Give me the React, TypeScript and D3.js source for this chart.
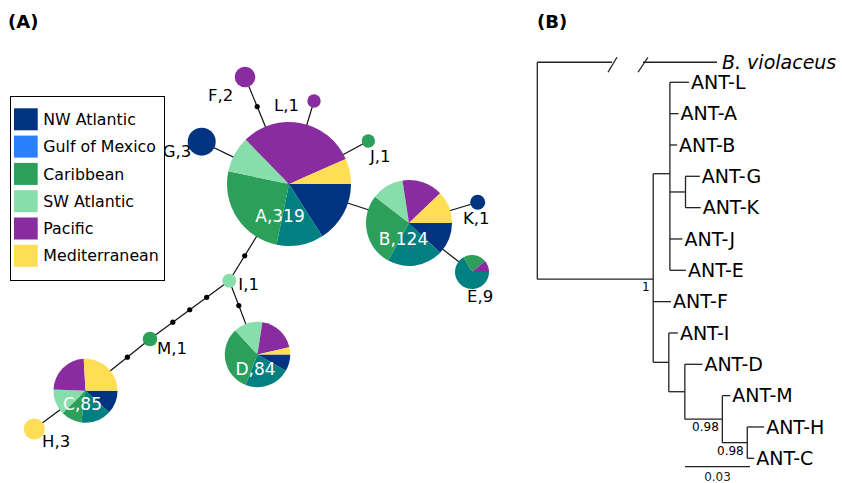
import { useEffect, useRef } from 'react';
import * as d3 from 'd3';

// ---- Panel A: haplotype network ----
const regions = ['NW Atlantic', 'Gulf of Mexico', 'Caribbean', 'SW Atlantic', 'Pacific', 'Mediterranean'];
const legendColors = ['#003380', '#2a7fff', '#2ca05a', '#87deaa', '#892ca0', '#ffdd55'];
const pieColors = ['#003380', '#008080', '#2ca05a', '#87deaa', '#892ca0', '#ffdd55'];

const haplotypes = ['A', 'B', 'C', 'D', 'E', 'F', 'G', 'H', 'I', 'J', 'K', 'L', 'M'];
const haplotypeTotals = [319, 124, 85, 84, 9, 2, 3, 3, 1, 1, 1, 1, 1];
// counts per region, same order as `regions`
const regionCounts = [
    [51, 39, 80, 30, 98, 21],
    [15, 26, 34, 15, 19, 15],
    [10, 13, 9, 11, 20, 22],
    [7, 19, 27, 12, 16, 3],
    [0, 6, 2, 0, 1, 0],
    [0, 0, 0, 0, 2, 0],
    [3, 0, 0, 0, 0, 0],
    [0, 0, 0, 0, 0, 3],
    [0, 0, 0, 1, 0, 0],
    [0, 0, 1, 0, 0, 0],
    [1, 0, 0, 0, 0, 0],
    [0, 0, 0, 0, 1, 0],
    [0, 0, 1, 0, 0, 0],
];
// network layout (layout units)
const layoutX = [28.9, 40.9, 8.55, 25.75, 47.2, 24.5, 20.17, 3.43, 22.93, 36.83, 47.77, 31.4, 15.0];
const layoutY = [18.4, 22.3, 39.07, 35.45, 27.2, 7.7, 14.17, 42.9, 28.07, 14.1, 20.23, 10.1, 33.9];
const layoutR = [6.2, 4.3, 3.2, 3.27, 1.7, 1.03, 1.4, 1.05, 0.7, 0.67, 0.75, 0.67, 0.73];
// edges: [from, to, unsampled intermediate steps]
const netEdges: [string, string, number][] = [
    ['A', 'F', 1], ['A', 'L', 0], ['A', 'G', 0], ['A', 'J', 0], ['A', 'B', 0], ['A', 'I', 1],
    ['B', 'K', 0], ['B', 'E', 0], ['I', 'D', 1], ['I', 'M', 3], ['M', 'C', 1], ['C', 'H', 0],
];

// ---- Panel B: tree ----
const treeIds = ['root', 'N1', 'C1', 'ANT-L', 'ANT-A', 'ANT-B', 'GK', 'ANT-G', 'ANT-K', 'ANT-J', 'ANT-E',
    'ANT-F', 'C2', 'ANT-I', 'SD', 'ANT-D', 'SM', 'ANT-M', 'SHC', 'ANT-H', 'ANT-C'];
const treeParents = ['', 'root', 'N1', 'C1', 'C1', 'C1', 'C1', 'GK', 'GK', 'C1', 'C1',
    'N1', 'N1', 'C2', 'C2', 'SD', 'SD', 'SM', 'SM', 'SHC', 'SHC'];
const branchLengths = [0, 0.0535, 0.0077, 0.0088, 0.0040, 0.0033, 0.0072, 0.0066, 0.0070, 0.0058, 0.0074,
    0.0082, 0.0072, 0.0042, 0.0074, 0.0081, 0.0173, 0.0037, 0.0115, 0.0078, 0.0032];
const supportNodes = ['N1', 'SM', 'SHC'];
const supportValues = ['1', '0.98', '0.98'];
const outgroup = 'B. violaceus';

const FONT = "'DejaVu Sans', sans-serif";

const App = () => {
    const svgRef = useRef<SVGSVGElement>(null);

    useEffect(() => {
        if (!svgRef.current) return;
        const svg = d3.select(svgRef.current);
        svg.selectAll('*').remove();

        // Panel labels
        svg.append('text').attr('x', 8).attr('y', 28).attr('font-family', FONT)
            .attr('font-size', 18).attr('font-weight', 700).text('(A)');
        svg.append('text').attr('x', 537).attr('y', 28).attr('font-family', FONT)
            .attr('font-size', 18).attr('font-weight', 700).text('(B)');

        // ---------- network ----------
        const sx = d3.scaleLinear().domain([0, 50]).range([0, 500]);
        const sy = d3.scaleLinear().domain([0, 50]).range([0, 500]);
        const sr = d3.scaleLinear().domain([0, 10]).range([0, 100]);

        const nodes = haplotypes.map((h, i) => ({
            id: h,
            total: haplotypeTotals[i],
            counts: regionCounts[i],
            x: sx(layoutX[i]),
            y: sy(layoutY[i]),
            r: sr(layoutR[i]),
        }));
        const byId = new Map(nodes.map(n => [n.id, n]));

        const g = svg.append('g');

        // edges + intermediate (missing) haplotypes
        const dots: { x: number; y: number }[] = [];
        netEdges.forEach(([a, b, steps]) => {
            const s = byId.get(a)!;
            const t = byId.get(b)!;
            g.append('line')
                .attr('x1', s.x).attr('y1', s.y).attr('x2', t.x).attr('y2', t.y)
                .attr('stroke', '#111').attr('stroke-width', 1.2);
            const len = Math.hypot(t.x - s.x, t.y - s.y);
            const t0 = s.r / len;
            const t1 = 1 - t.r / len;
            for (let k = 1; k <= steps; k++) {
                const f = t0 + (t1 - t0) * k / (steps + 1);
                dots.push({ x: s.x + (t.x - s.x) * f, y: s.y + (t.y - s.y) * f });
            }
        });
        g.selectAll('.step').data(dots).enter().append('circle')
            .attr('cx', d => d.x).attr('cy', d => d.y).attr('r', 2.6).attr('fill', '#000');

        // pies
        const pie = d3.pie<number>().sort(null).value(d => d)
            .startAngle(Math.PI / 2).endAngle(Math.PI / 2 + 2 * Math.PI);
        nodes.forEach(n => {
            const arc = d3.arc<d3.PieArcDatum<number>>().innerRadius(0).outerRadius(n.r);
            const ng = g.append('g').attr('transform', `translate(${n.x},${n.y})`);
            ng.selectAll('path').data(pie(n.counts).filter(d => d.value > 0)).enter()
                .append('path')
                .attr('d', arc)
                .attr('fill', d => pieColors[d.index]);
        });

        // labels
        const bigLabelOffset: Record<string, [number, number]> = {
            A: [-9, 38], B: [-5.5, 22], C: [-3, 19.3], D: [-2, 20.5],
        };
        const smallLabelOffset: Record<string, [number, number]> = {
            E: [-5, 30], F: [-37, 24], G: [-39, 15.5], H: [7.7, 18], I: [9, 9.3],
            J: [1.7, 20.7], K: [-14.7, 22], L: [-40, 10], M: [7, 15],
        };
        nodes.forEach(n => {
            const label = `${n.id},${n.total}`;
            if (bigLabelOffset[n.id]) {
                const [dx, dy] = bigLabelOffset[n.id];
                g.append('text').attr('x', n.x + dx).attr('y', n.y + dy)
                    .attr('text-anchor', 'middle').attr('fill', '#fff')
                    .attr('font-family', FONT).attr('font-size', 17).text(label);
            } else {
                const [dx, dy] = smallLabelOffset[n.id];
                g.append('text').attr('x', n.x + dx).attr('y', n.y + dy)
                    .attr('fill', '#000')
                    .attr('font-family', FONT).attr('font-size', 16.5).text(label);
            }
        });

        // legend
        const lg = svg.append('g');
        lg.append('rect').attr('x', 10.5).attr('y', 96.5).attr('width', 154).attr('height', 184)
            .attr('fill', '#fff').attr('stroke', '#000').attr('stroke-width', 1);
        const rowY = d3.scaleLinear().domain([0, 5]).range([108.3, 244.8]);
        regions.forEach((name, i) => {
            lg.append('rect').attr('x', 14).attr('y', rowY(i)).attr('width', 23.7).attr('height', 22)
                .attr('fill', legendColors[i]);
            lg.append('text').attr('x', 43.3).attr('y', rowY(i) + 11).attr('dy', '0.36em')
                .attr('font-family', FONT).attr('font-size', 15.8).attr('fill', '#000').text(name);
        });

        // ---------- tree ----------
        type TNode = { id: string; parent: string; len: number };
        const rows: TNode[] = treeIds.map((id, i) => ({ id, parent: treeParents[i], len: branchLengths[i] }));
        const root = d3.stratify<TNode>().id(d => d.id).parentId(d => d.parent || null)(rows);

        const rootX = 537.3;
        const xTree = d3.scaleLinear().domain([0, 0.03]).range([rootX, rootX + 65]);
        const leaves = root.leaves();
        const yTree = d3.scaleLinear().domain([0, leaves.length - 1]).range([82.3, 458.3]);

        const depth = new Map<string, number>();
        const ypos = new Map<string, number>();
        root.eachBefore(n => {
            depth.set(n.id!, (n.parent ? depth.get(n.parent.id!)! : 0) + n.data.len);
        });
        leaves.forEach((l, i) => ypos.set(l.id!, yTree(i)));
        root.eachAfter(n => {
            if (n.children) ypos.set(n.id!, d3.mean(n.children, c => ypos.get(c.id!))!);
        });

        const tg = svg.append('g').attr('stroke', '#222').attr('stroke-width', 1.3).attr('fill', 'none');
        root.descendants().forEach(n => {
            const x = xTree(depth.get(n.id!)!);
            const y = ypos.get(n.id!)!;
            if (n.parent) {
                const px = xTree(depth.get(n.parent.id!)!);
                tg.append('line').attr('x1', px).attr('x2', x).attr('y1', y).attr('y2', y);
            }
            if (n.children && n.parent) {
                const ys = n.children.map(c => ypos.get(c.id!)!);
                tg.append('line').attr('x1', x).attr('x2', x)
                    .attr('y1', d3.min(ys)!).attr('y2', d3.max(ys)!);
            }
        });

        // outgroup (broken branch)
        const outY = yTree(-0.64);
        const n1Y = ypos.get('N1')!;
        tg.append('line').attr('x1', rootX).attr('x2', rootX).attr('y1', outY).attr('y2', n1Y);
        tg.append('line').attr('x1', rootX).attr('x2', 612).attr('y1', outY).attr('y2', outY);
        tg.append('line').attr('x1', 643).attr('x2', 717).attr('y1', outY).attr('y2', outY);
        tg.append('line').attr('x1', 608).attr('y1', outY + 10).attr('x2', 617).attr('y2', outY - 5);
        tg.append('line').attr('x1', 638).attr('y1', outY + 10).attr('x2', 648).attr('y2', outY - 5);
        svg.append('text').attr('x', 722).attr('y', outY).attr('dy', '0.35em')
            .attr('font-family', FONT).attr('font-size', 19).attr('font-style', 'italic')
            .text(outgroup);

        // leaf labels
        leaves.forEach(l => {
            svg.append('text')
                .attr('x', xTree(depth.get(l.id!)!) + 2)
                .attr('y', ypos.get(l.id!)!)
                .attr('dy', '0.36em')
                .attr('font-family', FONT).attr('font-size', 19).attr('fill', '#000')
                .text(l.id!);
        });

        // support values
        supportNodes.forEach((id, i) => {
            svg.append('text')
                .attr('x', xTree(depth.get(id)!) - 3.5)
                .attr('y', ypos.get(id)! + 12)
                .attr('text-anchor', 'end')
                .attr('font-family', FONT).attr('font-size', 12).attr('fill', '#000')
                .text(supportValues[i]);
        });

        // scale bar
        const barX = 685;
        const barW = xTree(0.03) - xTree(0);
        svg.append('line').attr('x1', barX).attr('x2', barX + barW).attr('y1', 466.7).attr('y2', 466.7)
            .attr('stroke', '#222').attr('stroke-width', 1.3);
        svg.append('text').attr('x', barX + barW / 2).attr('y', 481).attr('text-anchor', 'middle')
            .attr('font-family', FONT).attr('font-size', 12).attr('fill', '#222').text('0.03');
    }, []);

    return (
        <svg
            ref={svgRef}
            width={842}
            height={483}
            style={{ position: 'absolute', left: 0, top: 0, background: '#fff' }}
        />
    );
};

export default App;
